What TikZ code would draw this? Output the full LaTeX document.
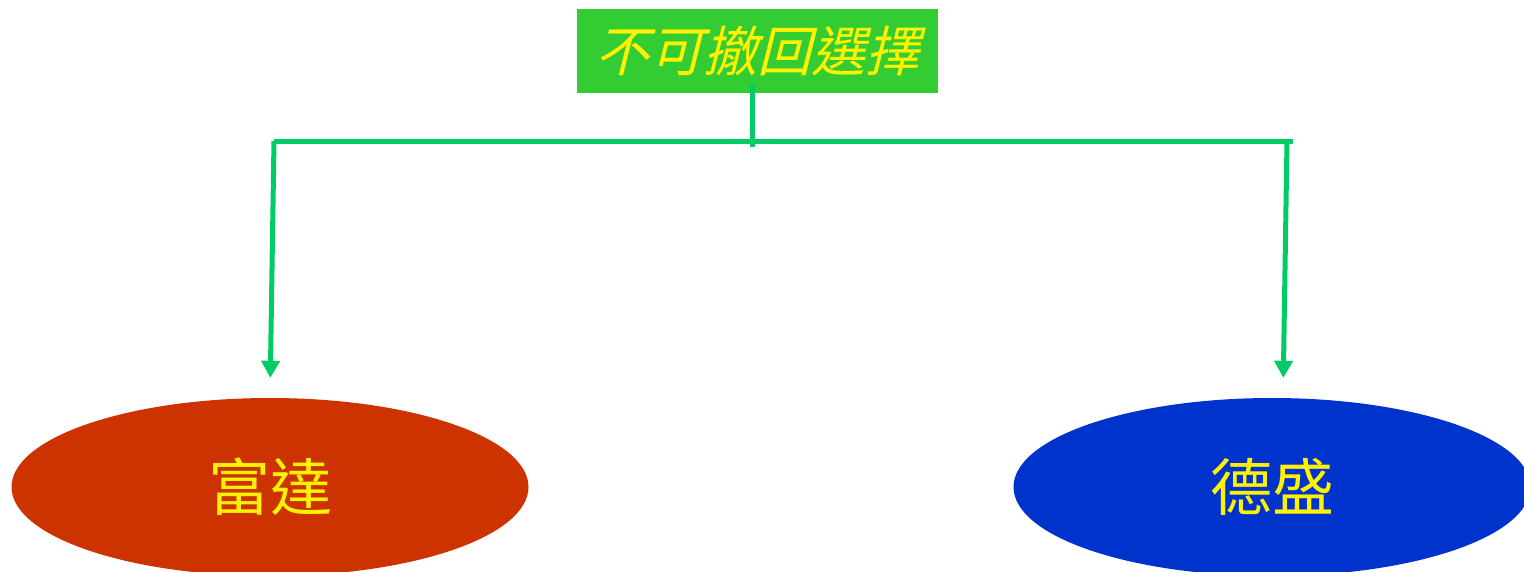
\documentclass[tikz,border=0pt]{standalone}
\usepackage{fontspec}
\usepackage{tikz}
\usetikzlibrary{shapes.geometric,arrows.meta,positioning,calc}
\newfontfamily\cjk{Noto Sans CJK TC}
\newfontfamily\cjkslant[FakeSlant=0.25]{Noto Sans CJK TC}
\definecolor{boxgreen}{RGB}{51,204,51}
\definecolor{linkgreen}{RGB}{0,204,102}
\definecolor{fundred}{RGB}{204,51,0}
\definecolor{fundblue}{RGB}{0,51,204}
\tikzstyle{title} = [rectangle, fill=boxgreen, text=yellow, minimum width=361pt, minimum height=84pt, inner sep=0pt, font=\cjkslant\fontsize{54}{54}\selectfont]
\tikzstyle{fund} = [ellipse, text=yellow, minimum width=517pt, minimum height=178pt, inner sep=0pt, font=\cjk\fontsize{62}{62}\selectfont]
\tikzstyle{link} = [draw=linkgreen, line width=5pt]

\begin{document}
\begin{tikzpicture}[x=1pt, y=-1pt, >={Triangle[length=17pt,width=18pt]}]
    \useasboundingbox (0,0) rectangle (1524,571);
    \node[title] (choice) at (757.5,51) {不可撤回選擇};
    \node[fund, fill=fundred] (fida) at (270,487) {富達};
    \node[fund, fill=fundblue] (desheng) at (1272,487) {德盛};

    \coordinate (stem) at (752,147);
    \coordinate (barl) at (274,141);
    \coordinate (barr) at (1293,141);
    \coordinate (dropl) at (274,141);
    \coordinate (dropr) at (1287,141);

    \draw[link] (choice.south -| stem) ++(0,-8) -- (stem);
    \draw[link] (barl) -- (barr);
    \draw[link, ->, shorten >=20pt] (dropl) -- (fida.north);
    \draw[link, ->, shorten >=20pt] (dropr) -- ($(desheng.north)+(11,0)$);
\end{tikzpicture}
\end{document}
